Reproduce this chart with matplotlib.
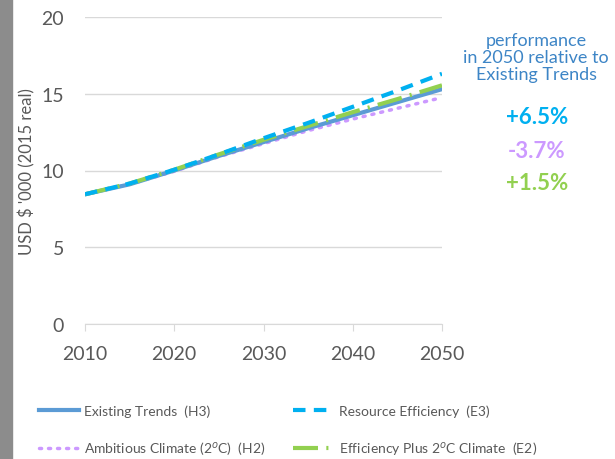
import matplotlib.pyplot as plt
import numpy as np
from matplotlib.patches import Rectangle

years = [2010, 2015, 2020, 2025, 2030, 2035, 2040, 2045, 2050]
existing = [8.45, 9.1, 10.0, 10.95, 11.85, 12.75, 13.6, 14.45, 15.3]
resource = [8.45, 9.15, 10.05, 11.05, 12.1, 13.1, 14.15, 15.2, 16.3]
ambitious = [8.45, 9.1, 9.95, 10.9, 11.75, 12.6, 13.35, 14.05, 14.75]
effplus = [8.45, 9.15, 10.05, 11.05, 12.0, 12.9, 13.8, 14.65, 15.55]

labels = ['Existing Trends  (H3)', 'Resource Efficiency  (E3)',
          'Ambitious Climate (2$^o$C)  (H2)', 'Efficiency Plus 2$^o$C Climate  (E2)']
perf = ['+6.5%', '-3.7%', '+1.5%']

c_exist = '#5b9bd5'
c_res = '#00b0f0'
c_amb = '#cc99ff'
c_eff = '#92d050'
txt = '#595959'

plt.rcParams['font.family'] = ['Lato', 'DejaVu Sans']

fig = plt.figure(figsize=(6.15, 4.6), dpi=100)
fig.patches.append(Rectangle((0, 0), 12/615, 1, transform=fig.transFigure,
                             color='#8c8c8c', zorder=0))
ax = fig.add_axes([85/615, 1-325/460, 357/615, 307/460])

l1, = ax.plot(years, existing, color=c_exist, lw=3, label=labels[0], zorder=3)
l2, = ax.plot(years, resource, color=c_res, lw=3, ls=(0, (3, 2)), label=labels[1], zorder=4)
l3, = ax.plot(years, ambitious, color=c_amb, lw=2.5, ls=(0, (0.6, 2)), dash_capstyle='round',
              label=labels[2], zorder=2)
l4, = ax.plot(years, effplus, color=c_eff, lw=3, ls=(0, (6, 2, 0.5, 2)), label=labels[3], zorder=3)

ax.set_xlim(2010, 2050)
ax.set_ylim(0, 20)
ax.set_xticks([2010, 2020, 2030, 2040, 2050])
ax.set_yticks([0, 5, 10, 15, 20])
ax.grid(axis='y', color='#d9d9d9', lw=1)
ax.set_axisbelow(True)
for s in ['top', 'right', 'left']:
    ax.spines[s].set_visible(False)
ax.spines['bottom'].set_color('#d9d9d9')
ax.tick_params(axis='x', colors=txt, labelsize=14, length=5, color='#d9d9d9', pad=10)
ax.tick_params(axis='y', colors=txt, labelsize=14, length=0, pad=15)
ax.set_ylabel("USD $ '000 (2015 real)", color=txt, fontsize=12)
ax.yaxis.set_label_coords(-0.14, 0.5)

# row-major order like the original legend
fig.legend([l1, l3, l2, l4], [labels[0], labels[2], labels[1], labels[3]],
           loc='center left', bbox_to_anchor=(26/615, 1-432/460), ncol=2, frameon=False,
           fontsize=10, labelcolor=txt, handlelength=2.9, columnspacing=2.0,
           handletextpad=0.4, labelspacing=1.6)

fig.text(536/615, 1-58/460, 'performance\nin 2050 relative to\nExisting Trends',
         ha='center', va='center', color='#3d85c6', fontsize=13, linespacing=1.1)
for i, (p, c) in enumerate(zip(perf, [c_res, c_amb, c_eff])):
    fig.text(537/615, 1-[117, 152, 184][i]/460, p, ha='center', va='center',
             color=c, fontsize=16, fontweight='bold')

fig.savefig('out.png', dpi=100)
